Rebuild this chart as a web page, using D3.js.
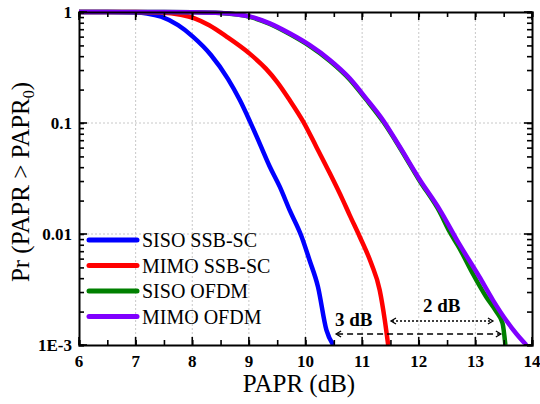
<!DOCTYPE html>
<html>
<head>
<meta charset="utf-8">
<script src="https://cdn.jsdelivr.net/npm/d3@7"></script>
<style>
  html, body { margin: 0; padding: 0; background: #fff; }
  svg { display: block; }
  svg text { font-family: "Liberation Serif", "Times New Roman", Tinos, serif !important; }
</style>
</head>
<body>
<svg id="chart" width="540" height="404"></svg>
<script>
// PAPR CCDF curves: x in dB, y = Pr(PAPR > PAPR0)
const sisoSsbX = [6.0, 6.5, 7.0, 7.2, 7.45, 7.75, 8.01, 8.33, 8.63, 8.84, 9.02, 9.19, 9.37, 9.545, 9.72, 9.93, 10.07, 10.22, 10.37, 10.49];
const sisoSsbY = [1.0, 0.999, 0.99, 0.97, 0.907, 0.76, 0.60, 0.41, 0.25, 0.161, 0.103, 0.0656, 0.0404, 0.0267, 0.0164, 0.0095, 0.00583, 0.00335, 0.00136, 0.001];

const mimoSsbX = [6.0, 7.0, 7.45, 7.8, 8.04, 8.3, 8.6, 9.0, 9.3, 9.5, 9.72, 9.96, 10.19, 10.43, 10.66, 10.78, 10.96, 11.16, 11.31, 11.40, 11.46];
const mimoSsbY = [1.0, 0.999, 0.99, 0.944, 0.877, 0.759, 0.603, 0.427, 0.309, 0.234, 0.161, 0.103, 0.0612, 0.0352, 0.0202, 0.0148, 0.0094, 0.00545, 0.00313, 0.00168, 0.001];

const sisoOfdmX = [6.0, 7.5, 8.0, 8.5, 9.03, 9.37, 9.72, 10.07, 10.43, 10.78, 11.07, 11.37, 11.66, 12.01, 12.37, 12.54, 12.72, 12.95, 13.19, 13.37, 13.48, 13.53];
const sisoOfdmY = [1.0, 0.999, 0.994, 0.978, 0.90, 0.78, 0.632, 0.495, 0.362, 0.247, 0.163, 0.103, 0.0605, 0.0305, 0.0158, 0.0106, 0.00743, 0.00443, 0.00272, 0.0020, 0.00157, 0.001];

const mimoOfdmX = [6.0, 7.5, 8.0, 8.5, 9.03, 9.37, 9.72, 10.07, 10.43, 10.78, 11.07, 11.37, 11.66, 12.01, 12.37, 12.72, 13.07, 13.31, 13.54, 13.72, 13.90];
const mimoOfdmY = [1.0, 0.999, 0.995, 0.98, 0.908, 0.79, 0.643, 0.505, 0.37, 0.253, 0.167, 0.106, 0.0617, 0.0313, 0.0166, 0.00805, 0.00412, 0.00254, 0.00168, 0.00127, 0.001];

const seriesNames = ["SISO SSB-SC", "MIMO SSB-SC", "SISO OFDM", "MIMO OFDM"];
const seriesColors = ["#0000ff", "#ff0000", "#008000", "#8000ff"];

const xTicks = [6, 7, 8, 9, 10, 11, 12, 13, 14];
const yTicks = [1, 0.1, 0.01, 0.001];
const yTickLabels = ["1", "0.1", "0.01", "1E-3"];

// Gap annotations (dB)
const gapLabels = ["3 dB", "2 dB"];
const dashedGap = [10.54, 13.45];
const dottedGap = [11.51, 13.31];

const SERIF = "'Liberation Serif', 'Times New Roman', Tinos, serif";

(function draw() {
  const svg = d3.select("#chart");
  const pL = 79, pR = 532, pT = 12, pB = 345;

  const x = d3.scaleLinear().domain([6, 14]).range([pL, pR]);
  const y = d3.scaleLog().domain([0.001, 1]).range([pB, pT]);

  // serif label at a baseline point
  function label(parent, str, attrs) {
    const t = parent.append("text")
      .attr("font-family", SERIF)
      .style("font-family", SERIF, "important");
    Object.entries(attrs).forEach(([k, v]) => t.attr(k, v));
    if (str !== null) t.text(str);
    return t;
  }

  svg.append("defs").append("clipPath").attr("id", "plotClip")
    .append("rect").attr("x", pL).attr("y", pT - 3).attr("width", pR - pL).attr("height", pB - pT + 3);

  // grid
  const grid = svg.append("g").attr("stroke", "#c8c8c8").attr("stroke-width", 1).attr("stroke-dasharray", "2,2");
  xTicks.filter(d => d > 6 && d < 14).forEach(d => {
    grid.append("line").attr("x1", x(d)).attr("x2", x(d)).attr("y1", pT).attr("y2", pB);
  });
  [0.1, 0.01].forEach(d => {
    grid.append("line").attr("x1", pL).attr("x2", pR).attr("y1", y(d)).attr("y2", y(d));
  });

  // curves
  const series = [
    {xs: sisoSsbX, ys: sisoSsbY},
    {xs: mimoSsbX, ys: mimoSsbY},
    {xs: sisoOfdmX, ys: sisoOfdmY},
    {xs: mimoOfdmX, ys: mimoOfdmY}
  ];
  const line = d3.line().x(d => x(d[0])).y(d => y(d[1])).curve(d3.curveMonotoneX);
  const curves = svg.append("g").attr("clip-path", "url(#plotClip)");
  series.forEach((s, i) => {
    const pts = s.xs.map((v, k) => [v, s.ys[k]]);
    curves.append("path").datum(pts)
      .attr("d", line)
      .attr("fill", "none")
      .attr("stroke", seriesColors[i])
      .attr("stroke-width", 4.5)
      .attr("stroke-linejoin", "round");
  });

  // axes (ticks pointing inward)
  const axisColor = "#000";
  const halfTicks = d3.range(6, 14.01, 0.5);
  const xAxisB = d3.axisBottom(x).tickValues(halfTicks).tickSize(-5).tickFormat("");
  const xAxisT = d3.axisTop(x).tickValues(halfTicks).tickSize(-5).tickFormat("");
  const minorY = [];
  [0.001, 0.01, 0.1].forEach(b => { for (let m = 1; m <= 10; m++) minorY.push(+(b * m).toPrecision(3)); });
  const yTickVals = Array.from(new Set(minorY));
  const yAxisL = d3.axisLeft(y).tickValues(yTickVals).tickSize(-5).tickFormat("");
  const yAxisR = d3.axisRight(y).tickValues(yTickVals).tickSize(-5).tickFormat("");

  function styleAxis(g) {
    g.select(".domain").attr("stroke", axisColor).attr("stroke-width", 2);
    g.selectAll(".tick line").attr("stroke", axisColor).attr("stroke-width", 1.6);
  }
  svg.append("g").attr("transform", `translate(0,${pB})`).call(xAxisB).call(styleAxis);
  svg.append("g").attr("transform", `translate(0,${pT})`).call(xAxisT).call(styleAxis);
  svg.append("g").attr("transform", `translate(${pL},0)`).call(yAxisL).call(styleAxis);
  svg.append("g").attr("transform", `translate(${pR},0)`).call(yAxisR).call(styleAxis);

  // longer major ticks
  const major = svg.append("g").attr("stroke", axisColor).attr("stroke-width", 1.6);
  xTicks.forEach(d => {
    major.append("line").attr("x1", x(d)).attr("x2", x(d)).attr("y1", pB).attr("y2", pB - 8);
    major.append("line").attr("x1", x(d)).attr("x2", x(d)).attr("y1", pT).attr("y2", pT + 8);
  });
  yTicks.forEach(d => {
    major.append("line").attr("x1", pL).attr("x2", pL + 8).attr("y1", y(d)).attr("y2", y(d));
    major.append("line").attr("x1", pR).attr("x2", pR - 8).attr("y1", y(d)).attr("y2", y(d));
  });

  // tick labels
  const tl = svg.append("g");
  xTicks.forEach(d => {
    label(tl, String(d), {x: x(d), y: 367, "text-anchor": "middle", "font-weight": "bold", "font-size": 17});
  });
  yTicks.forEach((d, i) => {
    label(tl, yTickLabels[i], {x: 72, y: y(d) + 6, "text-anchor": "end", "font-weight": "bold", "font-size": 17});
  });

  // axis titles
  label(svg, "PAPR (dB)", {x: 299, y: 392, "text-anchor": "middle", "font-size": 25});
  const yt = label(svg, null, {transform: "translate(29,182) rotate(-90)", "text-anchor": "middle", "font-size": 25});
  yt.append("tspan").text("Pr (PAPR > PAPR");
  yt.append("tspan").attr("font-size", 16).attr("dy", 5).text("0");
  yt.append("tspan").attr("dy", -5).text(")");

  // legend
  const legendRows = [240, 265.5, 291, 316.5];
  const lg = svg.append("g");
  seriesNames.forEach((name, i) => {
    lg.append("line").attr("x1", 89).attr("x2", 137).attr("y1", legendRows[i]).attr("y2", legendRows[i])
      .attr("stroke", seriesColors[i]).attr("stroke-width", 5).attr("stroke-linecap", "round");
    label(lg, name, {x: 142, y: legendRows[i] + 7, "font-size": 20});
  });

  // gap arrows
  function arrow(x0, x1, yy, dash) {
    const g = svg.append("g").attr("stroke", "#000").attr("stroke-width", 1.3).attr("fill", "none");
    g.append("line").attr("x1", x(x0) + 1).attr("x2", x(x1) - 1).attr("y1", yy).attr("y2", yy)
      .attr("stroke-dasharray", dash);
    g.append("polyline").attr("points", `${x(x0) + 5},${yy - 3} ${x(x0)},${yy} ${x(x0) + 5},${yy + 3}`);
    g.append("polyline").attr("points", `${x(x1) - 5},${yy - 3} ${x(x1)},${yy} ${x(x1) - 5},${yy + 3}`);
  }
  arrow(dashedGap[0], dashedGap[1], 334, "6,4");
  arrow(dottedGap[0], dottedGap[1], 321, "2,2");

  label(svg, gapLabels[0], {x: 335, y: 325.5, "font-weight": "bold", "font-size": 19});
  label(svg, gapLabels[1], {x: 423, y: 311.5, "font-weight": "bold", "font-size": 19});
})();
</script>
</body>
</html>
